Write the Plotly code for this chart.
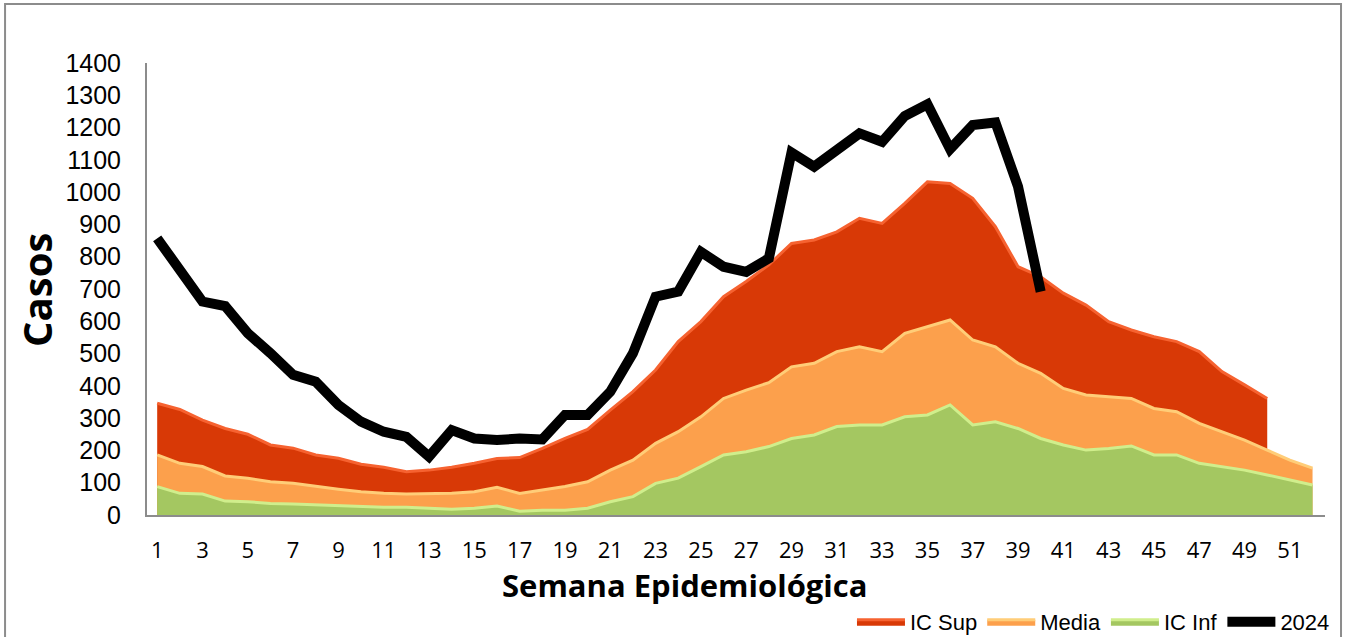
import plotly.graph_objects as go

# semanas epidemiologicas
semanas = list(range(1, 53))

# canal endemico
ic_sup = [346, 327, 294, 268, 250, 217, 207, 186, 176, 157, 148, 134, 139, 148, 160, 175, 178, 206, 237, 265,
          325, 382, 449, 537, 599, 676, 723, 775, 841, 852, 877, 919, 903, 965, 1032, 1027, 981, 893, 769, 738,
          687, 650, 599, 573, 552, 537, 506, 444, 403, 361]
media = [186, 160, 150, 121, 114, 103, 98, 88, 80, 72, 67, 65, 65, 67, 72, 86, 67, 77, 88, 103,
         139, 170, 222, 258, 304, 361, 387, 410, 459, 470, 506, 521, 506, 563, 583, 604, 542, 521, 470, 439,
         392, 372, 366, 361, 330, 320, 284, 258, 232, 201, 170, 145]
ic_inf = [88, 67, 65, 43, 41, 36, 34, 31, 28, 26, 24, 24, 21, 18, 21, 28, 12, 15, 15, 21,
          41, 57, 98, 114, 150, 186, 196, 212, 237, 248, 274, 279, 279, 304, 310, 341, 279, 289, 268, 237,
          217, 201, 206, 214, 186, 186, 160, 150, 139, 124, 108, 93]
casos_2024 = [857, 759, 661, 647, 563, 501, 434, 413, 341, 289, 258, 242, 181, 263, 237, 232, 237, 234, 310, 310,
              382, 501, 676, 692, 815, 769, 753, 795, 1123, 1079, 1130, 1182, 1156, 1236, 1272, 1133, 1208, 1216, 1017, 692]

x_ticks = list(range(1, 53, 2))
y_ticks = list(range(0, 1401, 100))

fig = go.Figure()

fig.add_trace(go.Scatter(
    x=semanas[:len(ic_sup)], y=ic_sup, name='IC Sup', mode='lines',
    fill='tozeroy', fillcolor='rgb(216,57,6)',
    line=dict(color='rgb(246,98,48)', width=3)
))
fig.add_trace(go.Scatter(
    x=semanas[:len(media)], y=media, name='Media', mode='lines',
    fill='tozeroy', fillcolor='rgb(252,160,76)',
    line=dict(color='rgb(255,205,120)', width=3)
))
fig.add_trace(go.Scatter(
    x=semanas[:len(ic_inf)], y=ic_inf, name='IC Inf', mode='lines',
    fill='tozeroy', fillcolor='rgb(164,199,97)',
    line=dict(color='rgb(208,238,140)', width=3)
))
fig.add_trace(go.Scatter(
    x=semanas[:len(casos_2024)], y=casos_2024, name='2024', mode='lines',
    line=dict(color='black', width=10)
))

fig.update_layout(
    width=1349, height=637,
    margin=dict(l=147, r=24, t=63, b=122, autoexpand=False),
    paper_bgcolor='white',
    plot_bgcolor='white',
    showlegend=True,
    legend=dict(
        orientation='h',
        xref='container', yref='container',
        x=0.9896, xanchor='right',
        y=0.0235, yanchor='middle',
        font=dict(family='Liberation Sans', size=22, color='black'),
        itemwidth=48,
        traceorder='normal',
        bgcolor='rgba(0,0,0,0)'
    ),
    xaxis=dict(
        range=[0.55, 52.55],
        tickvals=x_ticks,
        showgrid=False, zeroline=False, automargin=False,
        showline=True, linecolor='#8c8c8c', linewidth=2,
        ticks='outside', ticklen=15, tickcolor='rgba(0,0,0,0)',
        tickfont=dict(family='Open Sans', size=22, color='black'),
    ),
    yaxis=dict(
        range=[0, 1400],
        tickvals=y_ticks,
        showgrid=False, zeroline=False, automargin=False,
        showline=True, linecolor='#8c8c8c', linewidth=2,
        ticks='outside', ticklen=19, tickcolor='rgba(0,0,0,0)',
        tickfont=dict(family='Liberation Sans', size=25, color='black'),
    ),
    annotations=[
        dict(text='<b>Casos</b>', xref='paper', yref='paper', x=-0.0934, y=0.498,
             textangle=-90, showarrow=False, xanchor='center', yanchor='middle',
             font=dict(family='Open Sans', size=40, color='black')),
        dict(text='<b>Semana Epidemiológica</b>', xref='paper', yref='paper', x=0.4567, y=-0.155,
             showarrow=False, xanchor='center', yanchor='middle',
             font=dict(family='Open Sans', size=31, color='black')),
    ],
    shapes=[
        dict(type='rect', xref='paper', yref='paper', x0=-0.1205, x1=1.0136, y0=-0.30, y1=1.1305,
             line=dict(color='#8c8c8c', width=2), layer='below'),
    ],
)

# la pagina por defecto deja 8px de margen en el body
fig.write_html("out.html", config={'displayModeBar': False},
               post_script="document.body.style.margin='0';")
